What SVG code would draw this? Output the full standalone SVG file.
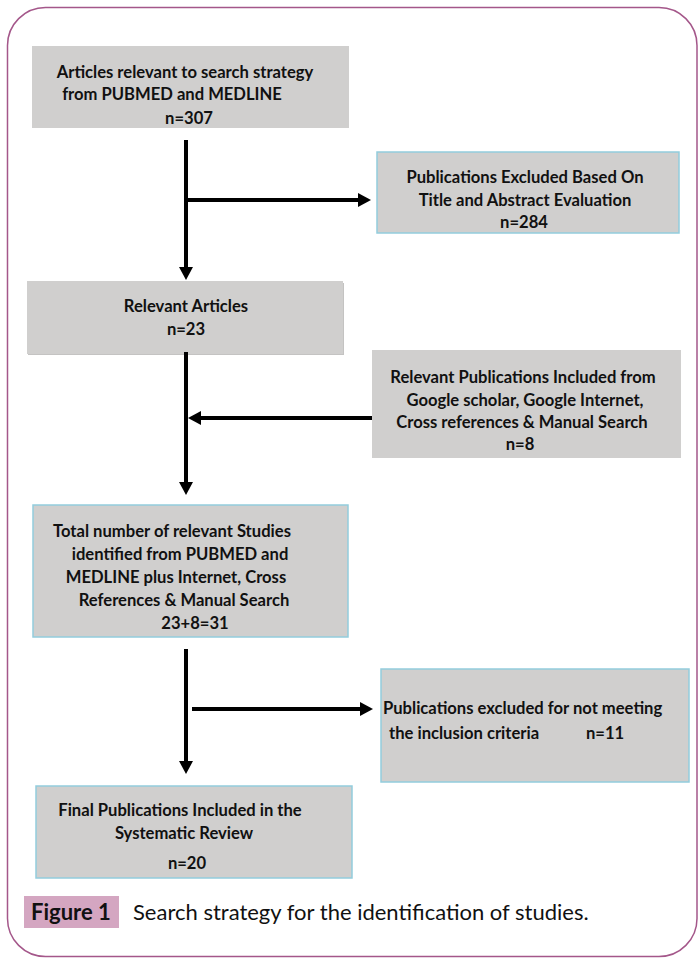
<svg xmlns="http://www.w3.org/2000/svg" width="698" height="958" viewBox="0 0 698 958">
<defs>
<marker id="ah" markerUnits="userSpaceOnUse" markerWidth="13" markerHeight="14" refX="0" refY="7" orient="auto" viewBox="0 0 13 14">
<path d="M0,0 L13,7 L0,14 z" fill="#000"/>
</marker>
</defs>
<style>
.box{fill:#d0cfce}
.bb{fill:#d0cfce;stroke:#93cddd;stroke-width:1.5}
.t{font-family:Lato,"Liberation Sans",sans-serif;font-weight:bold;font-size:16.6px;fill:#111}
.c{text-anchor:middle}
.ar{stroke:#000;stroke-width:4;fill:none;marker-end:url(#ah)}
.cap{font-family:Lato,"Liberation Sans",sans-serif;font-size:22px;fill:#111}
</style>
<rect x="7.5" y="7.5" width="689.5" height="949" rx="38" ry="38" fill="#fff" stroke="#a4578a" stroke-width="1.5"/>

<g id="n1">
<rect class="box" x="32" y="46" width="317" height="82"/>
<text class="t c" x="185" y="78">Articles relevant to search strategy</text>
<text class="t c" x="172" y="100">from PUBMED and MEDLINE</text>
<text class="t c" x="189" y="124">n=307</text>
</g>

<g id="n2">
<rect class="bb" x="377" y="152" width="302" height="81"/>
<text class="t c" x="525" y="183">Publications Excluded Based On</text>
<text class="t c" x="525" y="206">Title and Abstract Evaluation</text>
<text class="t c" x="524" y="228">n=284</text>
</g>

<g id="n3">
<rect x="28" y="283" width="316" height="72" fill="#c4c3c2"/>
<rect class="box" x="27" y="281" width="316" height="73"/>
<text class="t c" x="186" y="312">Relevant Articles</text>
<text class="t c" x="186" y="335">n=23</text>
</g>

<g id="n4">
<rect class="box" x="372" y="350" width="309" height="108"/>
<text class="t c" x="523" y="383">Relevant Publications Included from</text>
<text class="t c" x="525" y="406">Google scholar, Google Internet,</text>
<text class="t c" x="522" y="428">Cross references &amp; Manual Search</text>
<text class="t c" x="520" y="450">n=8</text>
</g>

<g id="n5">
<rect class="bb" x="33" y="505" width="315" height="132"/>
<text class="t c" x="172" y="537">Total number of relevant Studies</text>
<text class="t c" x="180" y="560">identified from PUBMED and</text>
<text class="t c" x="176" y="583">MEDLINE plus Internet, Cross</text>
<text class="t c" x="184" y="606">References &amp; Manual Search</text>
<text class="t c" x="195" y="629">23+8=31</text>
</g>

<g id="n6">
<rect class="bb" x="381" y="669" width="308" height="113"/>
<text class="t" x="383" y="714">Publications excluded for not meeting</text>
<text class="t" x="389" y="739">the inclusion criteria</text>
<text class="t" x="586" y="739">n=11</text>
</g>

<g id="n7">
<rect class="bb" x="36" y="786" width="316" height="92"/>
<text class="t c" x="180" y="816">Final Publications Included in the</text>
<text class="t c" x="184" y="839">Systematic Review</text>
<text class="t c" x="187" y="869">n=20</text>
</g>

<g id="edges">
<line class="ar" x1="186" y1="140" x2="186" y2="267"/>
<line class="ar" x1="188" y1="200" x2="358" y2="200"/>
<line class="ar" x1="186" y1="352" x2="186" y2="482"/>
<line class="ar" x1="372" y1="418" x2="201" y2="418"/>
<line class="ar" x1="186" y1="649" x2="186" y2="761"/>
<line class="ar" x1="192" y1="709" x2="360" y2="709"/>
</g>

<g id="caption">
<rect x="24" y="896" width="95" height="32" fill="#d4a6c1"/>
<text class="cap" x="31" y="920" font-weight="bold">Figure 1</text>
<text class="cap" x="133" y="920">Search strategy for the identification of studies.</text>
</g>
</svg>
